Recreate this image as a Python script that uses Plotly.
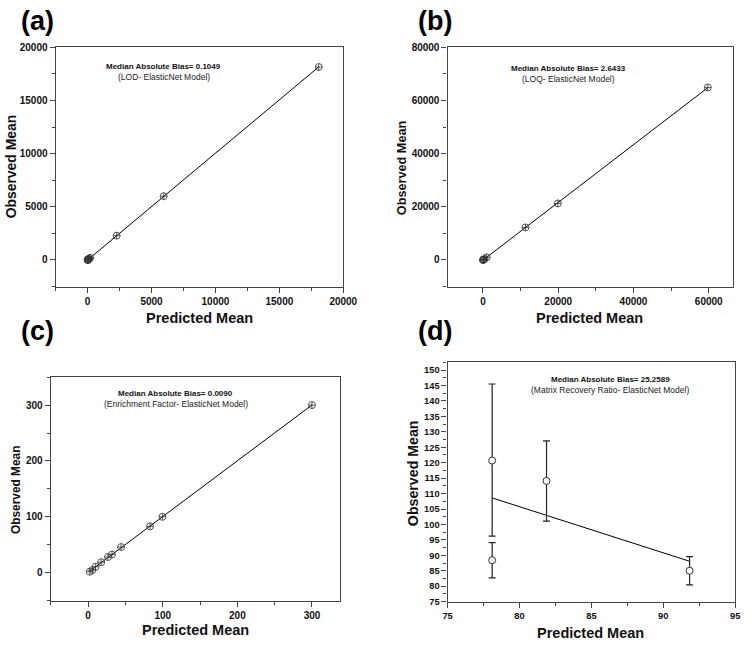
import numpy as np
import plotly.graph_objects as go

# ---------------- data ----------------
a_pred = [5, 12, 25, 40, 70, 120, 200, 2270, 5950, 18080]
a_obs = [4, 10, 22, 45, 65, 115, 210, 2290, 6000, 18150]

b_pred = [10, 60, 150, 400, 1000, 11300, 19900, 59740]
b_obs = [5, 50, 140, 380, 1000, 12240, 21270, 64900]

c_pred = [2.2, 5.7, 10.0, 17.5, 26.6, 31.9, 44.1, 83.0, 99.6, 300.0]
c_obs = [1.8, 4.7, 10.6, 18.8, 28.0, 32.4, 45.9, 82.9, 100.0, 300.0]

d_pred = [78.1, 78.1, 81.88, 91.83]
d_obs = [120.7, 88.4, 114.1, 85.0]
d_err_plus = [24.8, 5.7, 13.0, 4.6]
d_err_minus = [24.5, 5.7, 13.0, 4.6]

labels = ["(a)", "(b)", "(c)", "(d)"]
bias_text = ["Median Absolute Bias= 0.1049", "Median Absolute Bias= 2.6433",
             "Median Absolute Bias= 0.0090", "Median Absolute Bias= 25.2589"]
model_text = ["(LOD- ElasticNet Model)", "(LOQ- ElasticNet Model)",
              "(Enrichment Factor- ElasticNet Model)", "(Matrix Recovery Ratio- ElasticNet Model)"]

W, H = 756, 645
FONT = "Liberation Sans, Arial, sans-serif"

fig = go.Figure()

def px_x(p):
    return p / W

def px_y(p):
    return 1 - p / H

# panel boxes in pixels: left, right, top, bottom
boxes = [(52, 347, 43, 286), (454, 747, 43, 286), (47, 344, 378, 605), (454, 749, 363, 606)]
xranges = [[-2500, 20000], [-9400, 66500], [-50, 338], [75, 95]]
yranges = [[-2500, 20000], [-10000, 80000], [-50, 350], [75, 152.5]]
xdt = [5000, 20000, 100, 5]
ydt = [5000, 20000, 100, 5]
tick_sizes = [10, 10, 10, 9.3]

datasets = [(a_pred, a_obs), (b_pred, b_obs), (c_pred, c_obs), (d_pred, d_obs)]

for i, (xs, ys) in enumerate(datasets):
    n = "" if i == 0 else str(i + 1)
    xa, ya = "x" + n, "y" + n
    xs_arr = np.array(xs); ys_arr = np.array(ys)
    b, a = np.polyfit(xs_arr, ys_arr, 1)
    lx = np.array([xs_arr.min(), xs_arr.max()])
    fig.add_trace(go.Scatter(x=lx, y=a + b * lx, mode="lines", line=dict(color="black", width=1),
                             xaxis=xa, yaxis=ya, showlegend=False, hoverinfo="skip"))
    if i < 3:
        fig.add_trace(go.Scatter(x=xs, y=ys, mode="markers", xaxis=xa, yaxis=ya, showlegend=False,
                                 marker=dict(symbol="circle-cross-open", size=7,
                                             color="#333", line=dict(width=0.8, color="#333"))))
    else:
        fig.add_trace(go.Scatter(x=xs, y=ys, mode="markers", xaxis=xa, yaxis=ya, showlegend=False,
                                 error_y=dict(type="data", array=d_err_plus, arrayminus=d_err_minus,
                                              color="#222", thickness=1.2, width=3.5),
                                 marker=dict(symbol="circle", size=7, color="white",
                                             line=dict(width=1, color="#333"))))

    l, r, t, btm = boxes[i]
    axis_common = dict(showline=True, mirror=True, linecolor="#444", linewidth=1.3,
                       ticks="outside", ticklen=5, tickwidth=1, tickcolor="#444",
                       showgrid=False, zeroline=False, tickformat="d",
                       tickfont=dict(family=FONT, size=tick_sizes[i], color="#111", weight="bold"))
    xkey = "xaxis" + n
    ykey = "yaxis" + n
    fig.update_layout(**{
        xkey: dict(domain=[px_x(l), px_x(r)], range=xranges[i], anchor=ya, dtick=xdt[i], tick0=0,
                   minor=dict(dtick=xdt[i] / 2, tick0=0, ticks="outside", ticklen=3, tickcolor="#444"),
                   **axis_common),
        ykey: dict(domain=[px_y(btm), px_y(t)], range=yranges[i], anchor=xa, dtick=ydt[i], tick0=0,
                   minor=dict(dtick=ydt[i] / 2, tick0=0, ticks="outside", ticklen=3, tickcolor="#444"),
                   **axis_common),
    })

annotations = []
label_pos = [(33, 16), (441, 16), (33, 331), (441, 331)]
title_x = [(200, 318), (600, 318), (195, 635), (601, 638)]
ytitle = [(7, 164), (408, 165), (12, 492), (418, 475)]
ytitle_size = [13.9, 12.7, 11.9, 14.2]
note_pos = [(163, 62, 73), (578, 64, 75), (175, 395, 405), (621, 380, 391)]
for i in range(4):
    annotations.append(dict(text=labels[i], x=px_x(label_pos[i][0]), y=px_y(label_pos[i][1]),
                            xref="paper", yref="paper", showarrow=False, xanchor="center", yanchor="middle",
                            font=dict(family=FONT, size=27, color="black", weight="bold")))
    annotations.append(dict(text="Predicted Mean", x=px_x(title_x[i][0]), y=px_y(title_x[i][1]),
                            xref="paper", yref="paper", showarrow=False, xanchor="center", yanchor="middle",
                            font=dict(family=FONT, size=14.5, color="#111", weight="bold")))
    annotations.append(dict(text="Observed Mean", x=px_x(ytitle[i][0]), y=px_y(ytitle[i][1]),
                            xref="paper", yref="paper", showarrow=False, xanchor="center", yanchor="middle",
                            textangle=-90,
                            font=dict(family=FONT, size=ytitle_size[i], color="#111", weight="bold")))
    annotations.append(dict(text=bias_text[i], x=px_x(note_pos[i][0]), y=px_y(note_pos[i][1]),
                            xref="paper", yref="paper", showarrow=False, xanchor="center", yanchor="middle",
                            font=dict(family=FONT, size=8, color="#111", weight="bold")))
    annotations.append(dict(text=model_text[i], x=px_x(note_pos[i][0]), y=px_y(note_pos[i][2]),
                            xref="paper", yref="paper", showarrow=False, xanchor="center", yanchor="middle",
                            font=dict(family=FONT, size=8.5, color="#222")))

fig.update_layout(width=W, height=H, margin=dict(l=0, r=0, t=0, b=0),
                  paper_bgcolor="white", plot_bgcolor="white", annotations=annotations,
                  font=dict(family=FONT))

fig.write_html("out.html")
